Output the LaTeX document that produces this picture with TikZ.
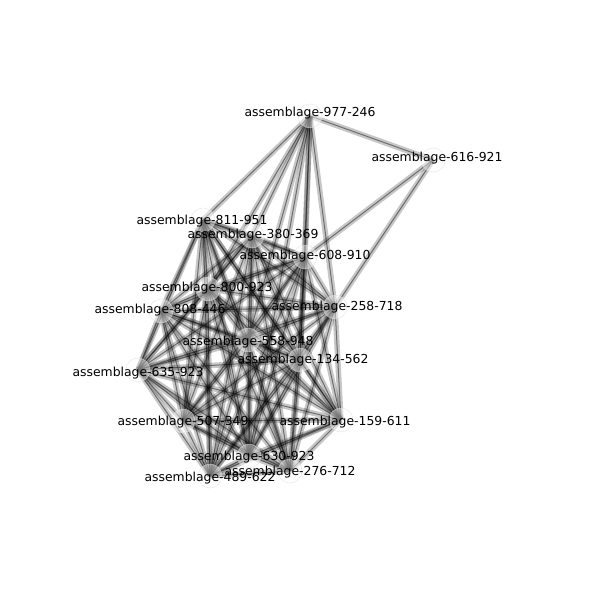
\documentclass[tikz,border=0pt]{standalone}
\usepackage{fontspec}
\setmainfont{DejaVu Sans}
\pgfdeclarelayer{bg}
\pgfsetlayers{bg,main}
\begin{document}
\begin{tikzpicture}[x=1pt,y=-1pt,
  vtx/.style={circle,minimum size=24pt,inner sep=0pt,fill=white,fill opacity=0.45,draw=black!12,draw opacity=0.6,line width=0.6pt},
  lbl/.style={font=\fontsize{12.4}{14}\selectfont,inner sep=0pt,text=black},
  edgeo/.style={line width=5.5pt,draw=black,opacity=0.22},
  edgei/.style={line width=1pt,draw=black,opacity=0.45}]
\useasboundingbox (0,0) rectangle (600,600);
\foreach \nm/\x/\y in {a977/310/116,a616/433/160,a811/203/220,a380/252/236,a608/305/257,a800/208/289,a808/161/311,a258/335/307,a558/248/340,a134/300/360,a635/138/370,a507/183/421,a159/341/420,a630/249/456,a276/290/471,a489/210/476}
  \node[vtx] (\nm) at (\x,\y) {};
\def\clist{a811,a380,a608,a800,a808,a258,a558,a134,a635,a507,a159,a630,a276,a489}
\begin{pgfonlayer}{bg}
\fill[white] (0,0) rectangle (600,600);
\foreach \u [count=\i] in \clist {
  \foreach \v [count=\j] in \clist {
    \ifnum\j>\i
      \draw[edgeo] (\u.center) -- (\v.center);
      \draw[edgei] (\u.center) -- (\v.center);
    \fi
  }
}
\foreach \u/\v in {a977/a616,a977/a811,a977/a380,a977/a800,a977/a558,a977/a630,a977/a608,a977/a134,a977/a258,a616/a608,a616/a258} {
  \draw[edgeo] (\u.center) -- (\v.center);
  \draw[edgei] (\u.center) -- (\v.center);
}
\end{pgfonlayer}
\foreach \nm/\t/\dx/\dy in {a977/977-246/0/-3,a616/616-921/4/-2,a811/811-951/-1/1,a380/380-369/1/-1,a608/608-910/0/-1,a800/800-923/-1/-1,a808/808-446/-1/-1,a258/258-718/2/0,a558/558-948/0/2,a134/134-562/3/0,a635/635-923/0/3,a507/507-349/0/1,a159/159-611/4/2,a630/630-923/0/1,a276/276-712/0/1,a489/489-622/0/2}
  \node[lbl] (l\nm) at ([shift={(\dx,\dy)}]\nm.center) {assemblage-\t};
\end{tikzpicture}
\end{document}
